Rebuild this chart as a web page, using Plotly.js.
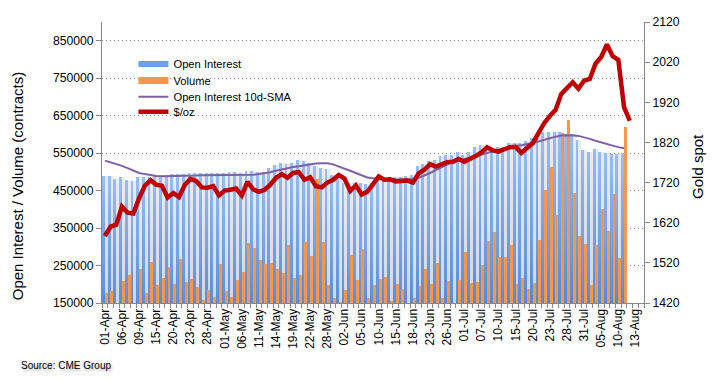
<!DOCTYPE html>
<html><head><meta charset="utf-8">
<script src="https://cdn.plot.ly/plotly-3.0.1.min.js"></script>
<style>html,body{margin:0;padding:0;background:#fff;}#chart{width:717px;height:380px;}</style>
</head><body><div id="chart"></div>
<script>
const dates = ["01-Apr","02-Apr","03-Apr","06-Apr","07-Apr","08-Apr","09-Apr","13-Apr","14-Apr","15-Apr","16-Apr","17-Apr","20-Apr","21-Apr","22-Apr","23-Apr","24-Apr","27-Apr","28-Apr","29-Apr","30-Apr",
"01-May","04-May","05-May","06-May","07-May","08-May","11-May","12-May","13-May","14-May","15-May","18-May","19-May","20-May","21-May","22-May","26-May","27-May","28-May","29-May",
"01-Jun","02-Jun","03-Jun","04-Jun","05-Jun","08-Jun","09-Jun","10-Jun","11-Jun","12-Jun","15-Jun","16-Jun","17-Jun","18-Jun","19-Jun","22-Jun","23-Jun","24-Jun","25-Jun","26-Jun","29-Jun","30-Jun",
"01-Jul","02-Jul","06-Jul","07-Jul","08-Jul","09-Jul","10-Jul","13-Jul","14-Jul","15-Jul","16-Jul","17-Jul","20-Jul","21-Jul","22-Jul","23-Jul","24-Jul","27-Jul","28-Jul","29-Jul","30-Jul","31-Jul",
"03-Aug","04-Aug","05-Aug","06-Aug","07-Aug","10-Aug","11-Aug","12-Aug","13-Aug","14-Aug"];
const tickLabels = ["01-Apr","06-Apr","09-Apr","15-Apr","20-Apr","23-Apr","28-Apr","01-May","06-May","11-May","14-May","19-May","22-May","28-May","02-Jun","05-Jun","10-Jun","15-Jun","18-Jun","23-Jun","26-Jun","01-Jul","07-Jul","10-Jul","15-Jul","20-Jul","23-Jul","28-Jul","31-Jul","05-Aug","10-Aug","13-Aug"];
const openInterest = [489000,489000,481000,485000,478000,475000,485000,487000,487000,489000,491000,491000,494000,493000,494000,496000,496000,498000,497000,496000,496000,
497000,499000,500000,497000,503000,501000,500000,500000,509000,518000,523000,521000,525000,531000,528000,524000,515000,509000,507000,492000,
483000,471000,469000,471000,471000,467000,469000,478000,480000,482000,485000,487000,489000,492000,516000,520000,529000,533000,542000,545000,545000,554000,
545000,554000,566000,572000,563000,560000,567000,567000,576000,576000,576000,583000,590000,598000,607000,606000,606000,607000,602000,600000,
585000,558000,554000,560000,552000,551000,548000,548000,550000];
const volume = [177000,181000,140000,208000,224000,140000,240000,176000,259000,197000,216000,246000,200000,267000,206000,213000,193000,158000,185000,165000,254000,
181000,165000,211000,232000,309000,297000,264000,253000,256000,240000,230000,305000,216000,224000,313000,276000,480000,313000,197000,163000,
152000,186000,278000,211000,294000,163000,197000,213000,219000,156000,202000,187000,148000,163000,195000,240000,202000,256000,163000,209000,148000,211000,
286000,203000,206000,251000,315000,339000,272000,272000,304000,200000,218000,187000,203000,318000,451000,512000,384000,605000,639000,443000,329000,307000,
197000,304000,402000,342000,441000,271000,619000];
const oiSma = [530000,526000,521000,516000,510000,503000,497000,494000,491000,489000,488000,488000,488000,488000,488000,489000,490000,491000,491000,491000,491000,
491000,491000,491000,490000,490000,492000,494000,496000,499000,503000,507000,510000,513000,515000,518000,520000,522000,523000,523000,520000,
515000,509000,503000,497000,490000,485000,483000,481000,480000,479000,479000,479000,480000,481000,484000,490000,497000,505000,513000,520000,527000,531000,
534000,537000,541000,546000,551000,555000,559000,562000,566000,569000,571000,573000,577000,581000,586000,590000,594000,597000,598000,598000,
596000,593000,588000,583000,578000,574000,570000,566000,563000];
const goldSpot = [1587,1610,1615,1660,1645,1643,1681,1712,1726,1715,1712,1683,1694,1684,1714,1729,1724,1708,1707,1711,1688,
1700,1702,1705,1688,1722,1703,1697,1702,1715,1732,1741,1732,1744,1746,1727,1733,1711,1708,1720,1727,
1739,1730,1699,1713,1690,1697,1715,1735,1727,1728,1723,1724,1725,1720,1743,1752,1766,1760,1766,1771,1772,1779,
1772,1778,1786,1795,1808,1800,1797,1803,1808,1809,1794,1806,1818,1843,1868,1886,1901,1941,1955,1970,1954,1974,
1978,2016,2033,2064,2035,2026,1908,1874];

const FONT = "Liberation Sans, Arial, sans-serif";
const xOI = dates.slice(0, openInterest.length);
const xVol = dates.slice(0, volume.length);
const xSma = dates.slice(0, oiSma.length);
const xGold = dates.slice(0, goldSpot.length);

const traces = [
  {type:'bar', x:xOI, y:openInterest, width:1, offset:-0.5, marker:{color:'#d8d9dc', line:{width:0}}, showlegend:false, hoverinfo:'skip'},
  {type:'bar', x:xOI, y:openInterest, width:0.5, offset:-0.5, marker:{color:'#6f9fe9', line:{width:0}}, showlegend:false, name:'Open Interest'},
  {type:'bar', x:xVol, y:volume, width:0.52, offset:-0.02, marker:{color:'#f79646', line:{width:0}}, showlegend:false, name:'Volume'},
  {type:'scatter', mode:'lines', x:xSma, y:oiSma, name:'Open Interest 10d-SMA', legend:'legend3', line:{color:'#7f60a8', width:2}},
  {type:'scatter', mode:'lines', x:xGold, y:goldSpot, name:'$/oz', yaxis:'y2', legend:'legend4', line:{color:'#c00000', width:4.5}},
  {type:'scatter', mode:'lines', x:[null], y:[null], name:'Open Interest', legend:'legend', line:{color:'#6f9fe9', width:6}, hoverinfo:'skip'},
  {type:'scatter', mode:'lines', x:[null], y:[null], name:'Volume', legend:'legend2', line:{color:'#f79646', width:7}, hoverinfo:'skip'}
];

function leg(yc){
  return {x:0.058, y:(303 - yc)/280.5, xanchor:'left', yanchor:'middle', orientation:'h',
    bgcolor:'rgba(0,0,0,0)', borderwidth:0, font:{size:11.2, family:FONT, color:'#000'}, tracegroupgap:0, itemwidth:30};
}

const layout = {
  width:717, height:380,
  margin:{l:102, r:73, t:22, b:77},
  paper_bgcolor:'#fff', plot_bgcolor:'#fff',
  font:{family:FONT, color:'#000', size:12},
  barmode:'overlay', bargap:0,
  showlegend:true,
  legend:leg(64.5),
  legend2:leg(81),
  legend3:leg(97),
  legend4:leg(112),
  shapes:[{type:'rect', xref:'paper', yref:'paper', x0:(123-102.3)/541.4, x1:(310-102.3)/541.4,
    y0:(303-123)/280.5, y1:(303-52)/280.5, fillcolor:'#fff', line:{width:0}, layer:'between'}],
  xaxis:{type:'category', categoryorder:'array', categoryarray:dates, range:[-0.5, dates.length-0.5],
    tickmode:'array', tickvals:dates, ticktext:dates.map(d => tickLabels.includes(d) ? d : ''),
    tickson:'boundaries', ticks:'outside', ticklen:4, tickcolor:'#888', tickangle:-90,
    tickfont:{size:12, family:FONT}, showline:true, linecolor:'#888', linewidth:1, showgrid:false, zeroline:false},
  yaxis:{range:[150000, 900000], tickmode:'linear', tick0:150000, dtick:100000, tickformat:'d',
    ticks:'outside', ticklen:5, tickcolor:'#888', showline:true, linecolor:'#888', linewidth:1,
    showgrid:true, gridcolor:'#8c8c8c', griddash:'1px,3px', gridwidth:1, zeroline:false,
    tickfont:{size:12.2, family:FONT}},
  yaxis2:{overlaying:'y', side:'right', range:[1420, 2120], tickmode:'linear', tick0:1420, dtick:100, tickformat:'d',
    ticks:'outside', ticklen:5, tickcolor:'#888', showline:true, linecolor:'#888', linewidth:1,
    showgrid:false, zeroline:false, tickfont:{size:12.2, family:FONT}},
  annotations:[
    {text:'Open Interest / Volume (contracts)', xref:'paper', yref:'paper', x:-0.156, y:0.417, textangle:-90,
      showarrow:false, xanchor:'center', yanchor:'middle', font:{size:15, family:FONT}},
    {text:'Gold spot', xref:'paper', yref:'paper', x:1.1, y:0.485, textangle:-90,
      showarrow:false, xanchor:'center', yanchor:'middle', font:{size:15, family:FONT}},
    {text:'Source: CME Group', xref:'paper', yref:'paper', x:(19-102)/542, y:(303-365)/280.5, xanchor:'left', yanchor:'middle',
      showarrow:false, font:{size:10, family:FONT, shadow:'1px 2px 3px rgba(0,0,0,0.35)'}}
  ]
};

Plotly.newPlot('chart', traces, layout, {displayModeBar:false, staticPlot:true}).then(function(gd){
  try {
    const svg = gd.querySelector('.main-svg');
    const ns = 'http://www.w3.org/2000/svg';
    const defs = document.createElementNS(ns, 'defs');
    function grad(id, top, bottom){
      const g = document.createElementNS(ns, 'linearGradient');
      g.setAttribute('id', id); g.setAttribute('x1','0'); g.setAttribute('y1','0'); g.setAttribute('x2','0'); g.setAttribute('y2','1');
      [[0, top],[1, bottom]].forEach(function(s){
        const st = document.createElementNS(ns, 'stop');
        st.setAttribute('offset', s[0]); st.setAttribute('stop-color', s[1]); g.appendChild(st);
      });
      defs.appendChild(g);
    }
    grad('oiBlue', '#96bdf7', '#3b78d2');
    grad('oiGray', '#ebebeb', '#c6ccd6');
    svg.insertBefore(defs, svg.firstChild);
    const barTraces = gd.querySelectorAll('.barlayer .trace.bars');
    if (barTraces.length >= 2) {
      barTraces[0].querySelectorAll('path').forEach(function(p){ p.style.fill = 'url(#oiGray)'; });
      barTraces[1].querySelectorAll('path').forEach(function(p){ p.style.fill = 'url(#oiBlue)'; });
    }
  } catch(e) {}
});
</script>
</body></html>
